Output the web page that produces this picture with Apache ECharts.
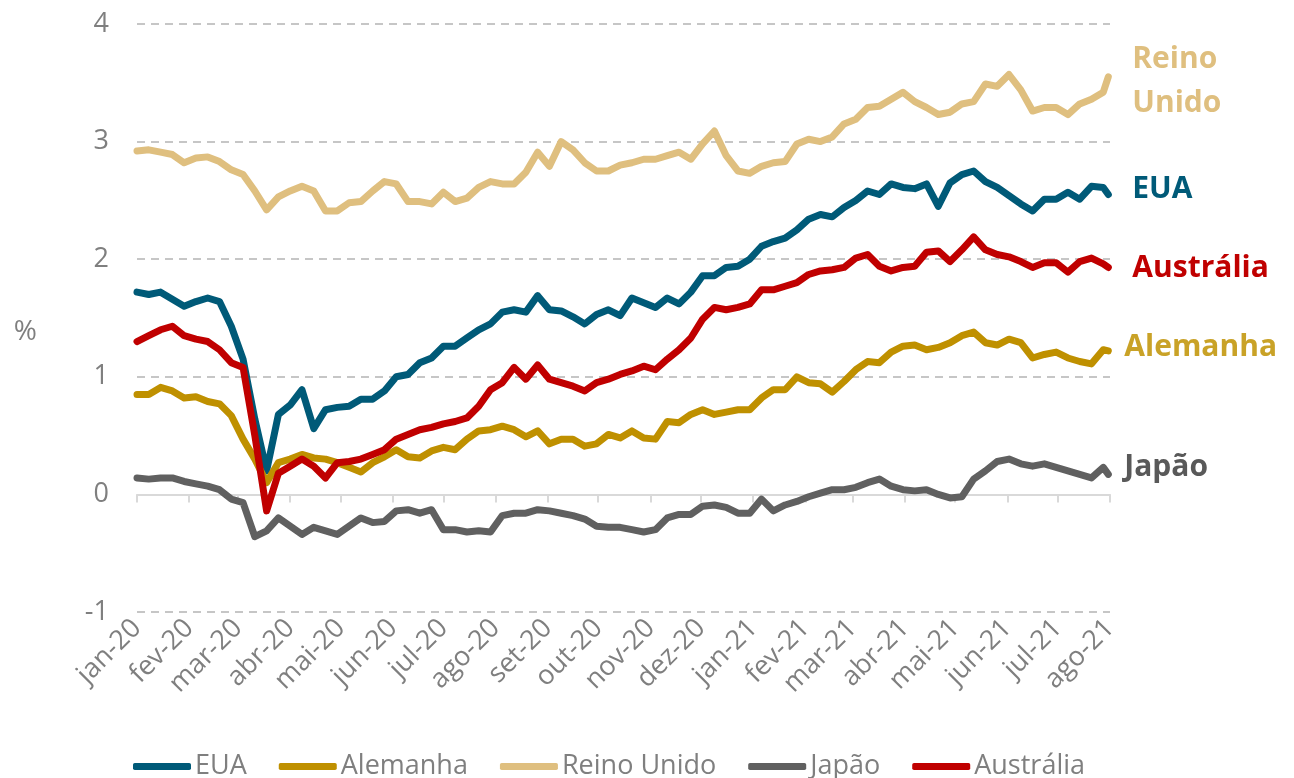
<!DOCTYPE html>
<html lang="pt">
<head>
    <meta charset="UTF-8">
    <title>Juros de 10 anos</title>
    <script src="https://cdn.jsdelivr.net/npm/echarts@6/dist/echarts.min.js"></script>
    <style>
        html, body { margin: 0; padding: 0; background: #fff; }
    </style>
</head>
<body>
    <div id="main" style="width: 1294px;height:778px;"></div>

    <script type="text/javascript">
        // datas semanais (quarta-feira) de jan-20 a fim de jul-21
        var datas = [];
        for (var k = 0; k < 83; k++) {
            datas.push(new Date(2020, 0, 1 + 7 * k).getTime());
        }
        datas.push(new Date(2021, 6, 31).getTime());

        var meses = ['jan', 'fev', 'mar', 'abr', 'mai', 'jun', 'jul', 'ago', 'set', 'out', 'nov', 'dez'];

        var eua = [1.72, 1.70, 1.72, 1.66, 1.60, 1.64, 1.67, 1.64, 1.43, 1.15, 0.64, 0.20, 0.68, 0.76, 0.89, 0.56, 0.72, 0.74, 0.75, 0.81, 0.81,
            0.88, 1.00, 1.02, 1.12, 1.16, 1.26, 1.26, 1.33, 1.40, 1.45, 1.55, 1.57, 1.55, 1.69, 1.57, 1.56, 1.51, 1.45, 1.53, 1.57,
            1.52, 1.67, 1.63, 1.59, 1.67, 1.62, 1.72, 1.86, 1.86, 1.93, 1.94, 2.00, 2.11, 2.15, 2.18, 2.25, 2.34, 2.38, 2.36, 2.44, 2.50,
            2.58, 2.55, 2.64, 2.61, 2.60, 2.64, 2.45, 2.65, 2.72, 2.75, 2.66, 2.61, 2.54, 2.47, 2.41, 2.51, 2.51, 2.57, 2.51, 2.62, 2.61, 2.55];

        var alemanha = [0.85, 0.85, 0.91, 0.88, 0.82, 0.83, 0.79, 0.77, 0.67, 0.47, 0.30, 0.10, 0.27, 0.30, 0.34, 0.31, 0.30, 0.27, 0.23, 0.19, 0.27,
            0.32, 0.38, 0.32, 0.31, 0.37, 0.40, 0.38, 0.47, 0.54, 0.55, 0.58, 0.55, 0.49, 0.54, 0.43, 0.47, 0.47, 0.41, 0.43, 0.51,
            0.48, 0.54, 0.48, 0.47, 0.62, 0.61, 0.68, 0.72, 0.68, 0.70, 0.72, 0.72, 0.82, 0.89, 0.89, 1.00, 0.95, 0.94, 0.87, 0.96, 1.06,
            1.13, 1.12, 1.21, 1.26, 1.27, 1.23, 1.25, 1.29, 1.35, 1.38, 1.29, 1.27, 1.32, 1.29, 1.16, 1.19, 1.21, 1.16, 1.13, 1.11, 1.23, 1.22];

        var reinoUnido = [2.92, 2.93, 2.91, 2.89, 2.82, 2.86, 2.87, 2.83, 2.76, 2.72, 2.58, 2.42, 2.53, 2.58, 2.62, 2.58, 2.41, 2.41, 2.48, 2.49, 2.58,
            2.66, 2.64, 2.49, 2.49, 2.47, 2.57, 2.49, 2.52, 2.61, 2.66, 2.64, 2.64, 2.74, 2.91, 2.79, 3.00, 2.93, 2.82, 2.75, 2.75,
            2.80, 2.82, 2.85, 2.85, 2.88, 2.91, 2.85, 2.98, 3.09, 2.88, 2.75, 2.73, 2.79, 2.82, 2.83, 2.98, 3.02, 3.00, 3.04, 3.15, 3.19,
            3.29, 3.30, 3.36, 3.42, 3.34, 3.29, 3.23, 3.25, 3.32, 3.34, 3.49, 3.47, 3.57, 3.44, 3.26, 3.29, 3.29, 3.23, 3.32, 3.36, 3.42, 3.55];

        var japao = [0.14, 0.13, 0.14, 0.14, 0.11, 0.09, 0.07, 0.04, -0.04, -0.07, -0.36, -0.31, -0.20, -0.27, -0.34, -0.28, -0.31, -0.34, -0.27, -0.20, -0.24,
            -0.23, -0.14, -0.13, -0.16, -0.13, -0.30, -0.30, -0.32, -0.31, -0.32, -0.18, -0.16, -0.16, -0.13, -0.14, -0.16, -0.18, -0.21, -0.27, -0.28,
            -0.28, -0.30, -0.32, -0.30, -0.20, -0.17, -0.17, -0.10, -0.09, -0.11, -0.16, -0.16, -0.04, -0.14, -0.09, -0.06, -0.02, 0.01, 0.04, 0.04, 0.06,
            0.10, 0.13, 0.07, 0.04, 0.03, 0.04, 0.00, -0.03, -0.02, 0.13, 0.20, 0.28, 0.30, 0.26, 0.24, 0.26, 0.23, 0.20, 0.17, 0.14, 0.23, 0.17];

        var australia = [1.30, 1.35, 1.40, 1.43, 1.35, 1.32, 1.30, 1.23, 1.12, 1.08, 0.50, -0.14, 0.18, 0.24, 0.30, 0.24, 0.14, 0.27, 0.28, 0.30, 0.34,
            0.38, 0.47, 0.51, 0.55, 0.57, 0.60, 0.62, 0.65, 0.75, 0.89, 0.95, 1.08, 0.98, 1.10, 0.98, 0.95, 0.92, 0.88, 0.95, 0.98,
            1.02, 1.05, 1.09, 1.06, 1.15, 1.23, 1.33, 1.49, 1.59, 1.57, 1.59, 1.62, 1.74, 1.74, 1.77, 1.80, 1.87, 1.90, 1.91, 1.93, 2.01,
            2.04, 1.94, 1.90, 1.93, 1.94, 2.06, 2.07, 1.98, 2.08, 2.19, 2.08, 2.04, 2.02, 1.98, 1.93, 1.97, 1.97, 1.89, 1.98, 2.01, 1.96, 1.93];

        var myChart = echarts.init(document.getElementById('main'));

        function pares(valores) {
            var out = [];
            for (var i = 0; i < valores.length; i++) {
                out.push([datas[i], valores[i]]);
            }
            return out;
        }

        function serie(nome, valores, cor, rotulo, corRotulo, offset) {
            return {
                name: nome,
                type: 'line',
                xAxisIndex: 0,
                data: pares(valores),
                symbol: 'none',
                lineStyle: { width: 7, color: cor, join: 'round', cap: 'round' },
                itemStyle: { color: cor },
                emphasis: { disabled: true },
                endLabel: {
                    show: true,
                    formatter: rotulo,
                    color: corRotulo,
                    fontFamily: 'Open Sans',
                    fontWeight: 'bold',
                    fontSize: 30,
                    lineHeight: 44,
                    offset: offset
                }
            };
        }

        var fonte = 'Open Sans';
        var inicio = new Date(2020, 0, 1).getTime();
        var fim = new Date(2021, 7, 1).getTime();

        var option = {
            animation: false,
            grid: { left: 137, right: 184, top: 24, bottom: 166 },
            legend: {
                left: 128,
                top: 748,
                itemWidth: 58,
                itemHeight: 7,
                itemGap: 32,
                icon: 'roundRect',
                textStyle: { color: '#7f7f7f', fontSize: 27, fontFamily: fonte, padding: [0, 0, 0, -1] },
                data: ['EUA', 'Alemanha', 'Reino Unido', 'Japão', 'Austrália']
            },
            xAxis: [{
                type: 'time',
                min: inicio,
                max: fim,
                minInterval: 28 * 86400000,
                maxInterval: 31 * 86400000,
                splitNumber: 19,
                axisLine: { onZero: true, lineStyle: { color: '#d9d9d9', width: 2 } },
                axisTick: { show: true, length: 8, lineStyle: { color: '#d9d9d9', width: 2 } },
                axisLabel: { show: false },
                splitLine: { show: false },
                minorTick: { show: false }
            }, {
                type: 'time',
                position: 'bottom',
                min: inicio,
                max: fim,
                minInterval: 28 * 86400000,
                maxInterval: 31 * 86400000,
                splitNumber: 19,
                axisLine: { show: false, onZero: false },
                axisTick: { show: false },
                splitLine: { show: false },
                axisLabel: {
                    rotate: 45,
                    margin: 12,
                    color: '#7f7f7f',
                    fontSize: 27,
                    fontFamily: fonte,
                    showMinLabel: true,
                    showMaxLabel: true,
                    hideOverlap: false,
                    formatter: function (v) {
                        var d = new Date(v);
                        return meses[d.getMonth()] + '-' + String(d.getFullYear()).slice(2);
                    }
                }
            }],
            yAxis: {
                type: 'value',
                min: -1,
                max: 4,
                interval: 1,
                name: '%',
                nameLocation: 'middle',
                nameRotate: 0,
                nameGap: 100,
                nameTextStyle: { color: '#7f7f7f', fontSize: 28, fontFamily: fonte, verticalAlign: 'top' },
                axisLine: { show: false },
                axisTick: { show: false },
                axisLabel: { color: '#7f7f7f', fontSize: 27, fontFamily: fonte, margin: 28 },
                splitLine: { lineStyle: { color: '#b4b4b4', width: 1.5, type: [8, 6] } }
            },
            series: [
                serie('EUA', eua, '#005a78', 'EUA', '#005a78', [16, -5]),
                serie('Alemanha', alemanha, '#bf9000', 'Alemanha', '#c9a227', [8, -3]),
                serie('Reino Unido', reinoUnido, '#dfbf7f', 'Reino\nUnido', '#dfbf7f', [16, 5]),
                serie('Japão', japao, '#606060', 'Japão', '#595959', [8, -7]),
                serie('Austrália', australia, '#c00000', 'Austrália', '#c00000', [16, 1])
            ]
        };

        myChart.setOption(option);
    </script>
</body>
</html>
